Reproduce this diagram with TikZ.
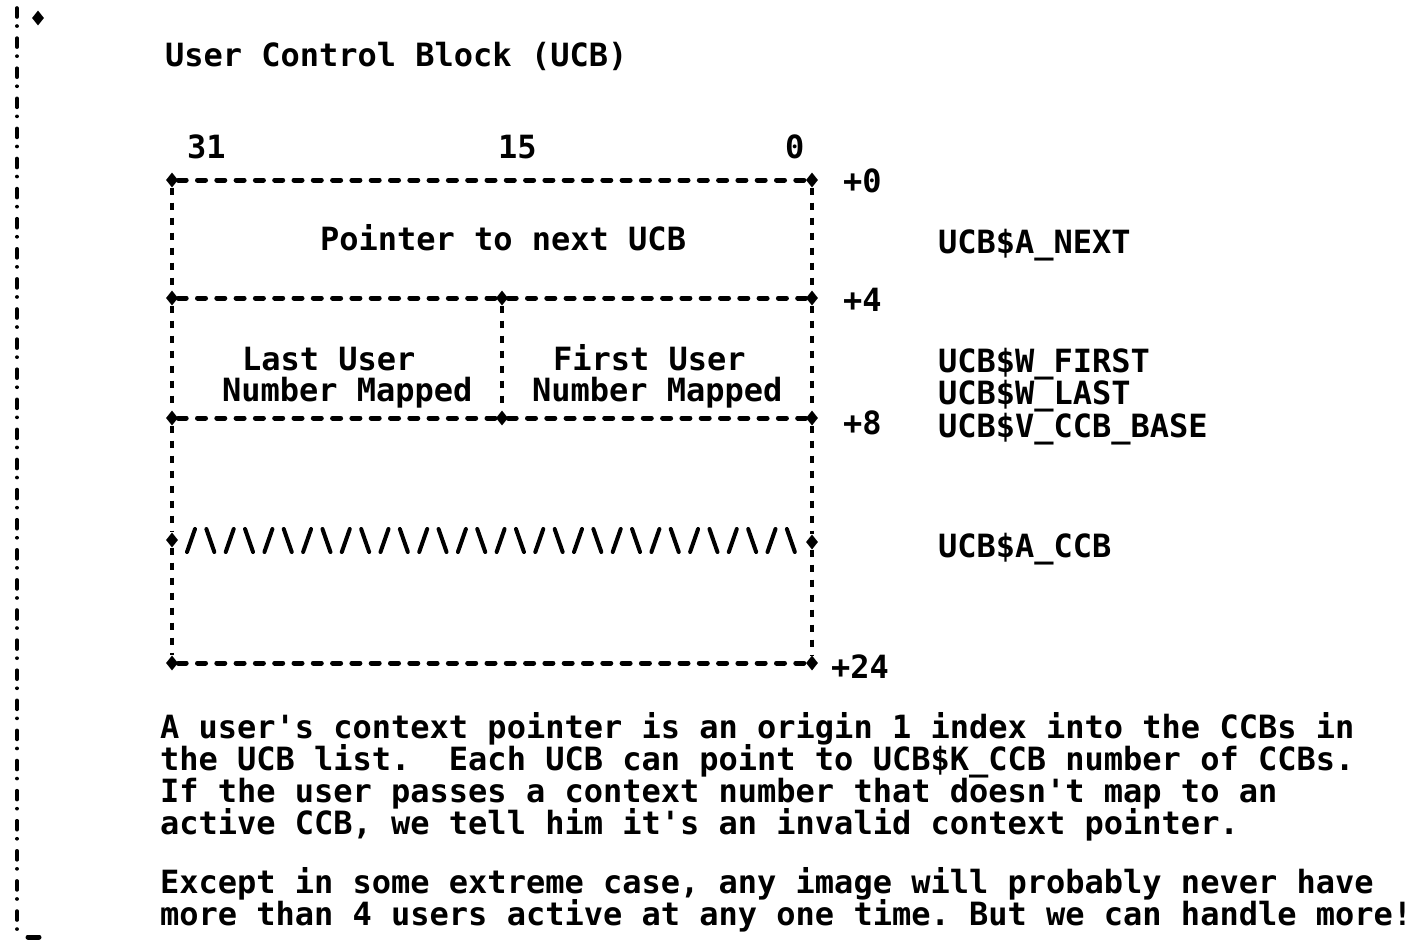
\documentclass[tikz,border=0pt]{standalone}
\usepackage{fontspec}
\setmonofont{DejaVu Sans Mono}
\usetikzlibrary{shapes.geometric}
\begin{document}
\begin{tikzpicture}[x=1pt,y=-1pt,
  txt/.style={anchor=base west, inner sep=0pt, outer sep=0pt, font=\fontsize{32}{38}\selectfont\ttfamily\bfseries},
  hdash/.style={line width=5pt, dash pattern=on 8pt off 11.3pt, line cap=round},
  vdash/.style={line width=3.5pt, dash pattern=on 7pt off 8pt},
  dmd/.style={diamond, fill=black, draw=none, inner sep=0pt, minimum width=12pt, minimum height=15pt},
  border/.style={line width=3.6pt, line cap=round, dash pattern=on 9pt off 9pt on 0.1pt off 12pt},
  zz/.style={line width=4pt, line cap=round}]
\frenchspacing
\fill[white] (0,0) rectangle (1415,940);
\useasboundingbox (0,0) rectangle (1415,940);

% page border
\coordinate (bt) at (17,8);
\coordinate (bb) at (17,935);
\draw[border] (bt) -- (bb);
\node[dmd] (pc) at (38,18) {};
\coordinate (ml) at (28,937);
\coordinate (mr) at (39,937);
\draw[line width=5pt, line cap=round] (ml) -- (mr);

% title
\node[txt] (title) at (165,66) {User Control Block (UCB)};

% bit numbers
\node[txt] (b31) at (187,158) {31};
\node[txt] (b15) at (498,158) {15};
\node[txt] (b0) at (785,158) {0};

% corner diamonds
\node[dmd] (a0) at (172,180) {};
\node[dmd] (c0) at (812,180) {};
\node[dmd] (a4) at (172,298) {};
\node[dmd] (m4) at (502,298) {};
\node[dmd] (c4) at (812,298) {};
\node[dmd] (a8) at (172,418) {};
\node[dmd] (m8) at (502,418) {};
\node[dmd] (c8) at (812,418) {};
\node[dmd] (az) at (172,540) {};
\node[dmd] (cz) at (812,542) {};
\node[dmd] (a24) at (172,663) {};
\node[dmd] (c24) at (812,663) {};

% horizontal dashed lines
\draw[hdash] (a0) -- (c0);
\draw[hdash] (a4) -- (m4);
\draw[hdash] (m4) -- (c4);
\draw[hdash] (a8) -- (m8);
\draw[hdash] (m8) -- (c8);
\draw[hdash] (a24) -- (c24);

% vertical dashed lines
\draw[vdash] (a0) -- (a4);
\draw[vdash] (c0) -- (c4);
\draw[vdash] (a4) -- (a8);
\draw[vdash] (m4) -- (m8);
\draw[vdash] (c4) -- (c8);
\draw[vdash] (a8) -- (az);
\draw[vdash] (c8) -- (cz);
\draw[vdash] (az) -- (a24);
\draw[vdash] (cz) -- (c24);

% zigzag row
\foreach \i [evaluate=\i as \xc using 191+19.35*\i] in {0,...,31} {
  \ifodd\i
    \draw[zz] (\xc-4,529) -- (\xc+4,552);
  \else
    \draw[zz] (\xc-4,552) -- (\xc+4,529);
  \fi
}

% field contents
\node[txt] (pn) at (320,250) {Pointer to next UCB};
\node[txt] (l1) at (242,370) {Last User};
\node[txt] (l2) at (222,401) {Number Mapped};
\node[txt] (f1) at (553,370) {First User};
\node[txt] (f2) at (532,401) {Number Mapped};

% offsets
\node[txt] (o0) at (843,192) {+0};
\node[txt] (o4) at (843,311) {+4};
\node[txt] (o8) at (843,434) {+8};
\node[txt] (o24) at (831,678) {+24};

% field names
\node[txt] (n1) at (938,253) {UCB\$A\_NEXT};
\node[txt] (n2) at (938,372) {UCB\$W\_FIRST};
\node[txt] (n3) at (938,404) {UCB\$W\_LAST};
\node[txt] (n4) at (938,437) {UCB\$V\_CCB\_BASE};
\node[txt] (n5) at (938,557) {UCB\$A\_CCB};

% paragraphs
\node[txt] (p1) at (160,738) {A user's context pointer is an origin 1 index into the CCBs in};
\node[txt] (p2) at (160,770) {the UCB list.\ \ Each UCB can point to UCB\$K\_CCB number of CCBs.};
\node[txt] (p3) at (160,802) {If the user passes a context number that doesn't map to an};
\node[txt] (p4) at (160,834) {active CCB, we tell him it's an invalid context pointer.};
\node[txt] (p5) at (160,893) {Except in some extreme case, any image will probably never have};
\node[txt] (p6) at (160,925) {more than 4 users active at any one time. But we can handle more!};
\end{tikzpicture}
\end{document}
